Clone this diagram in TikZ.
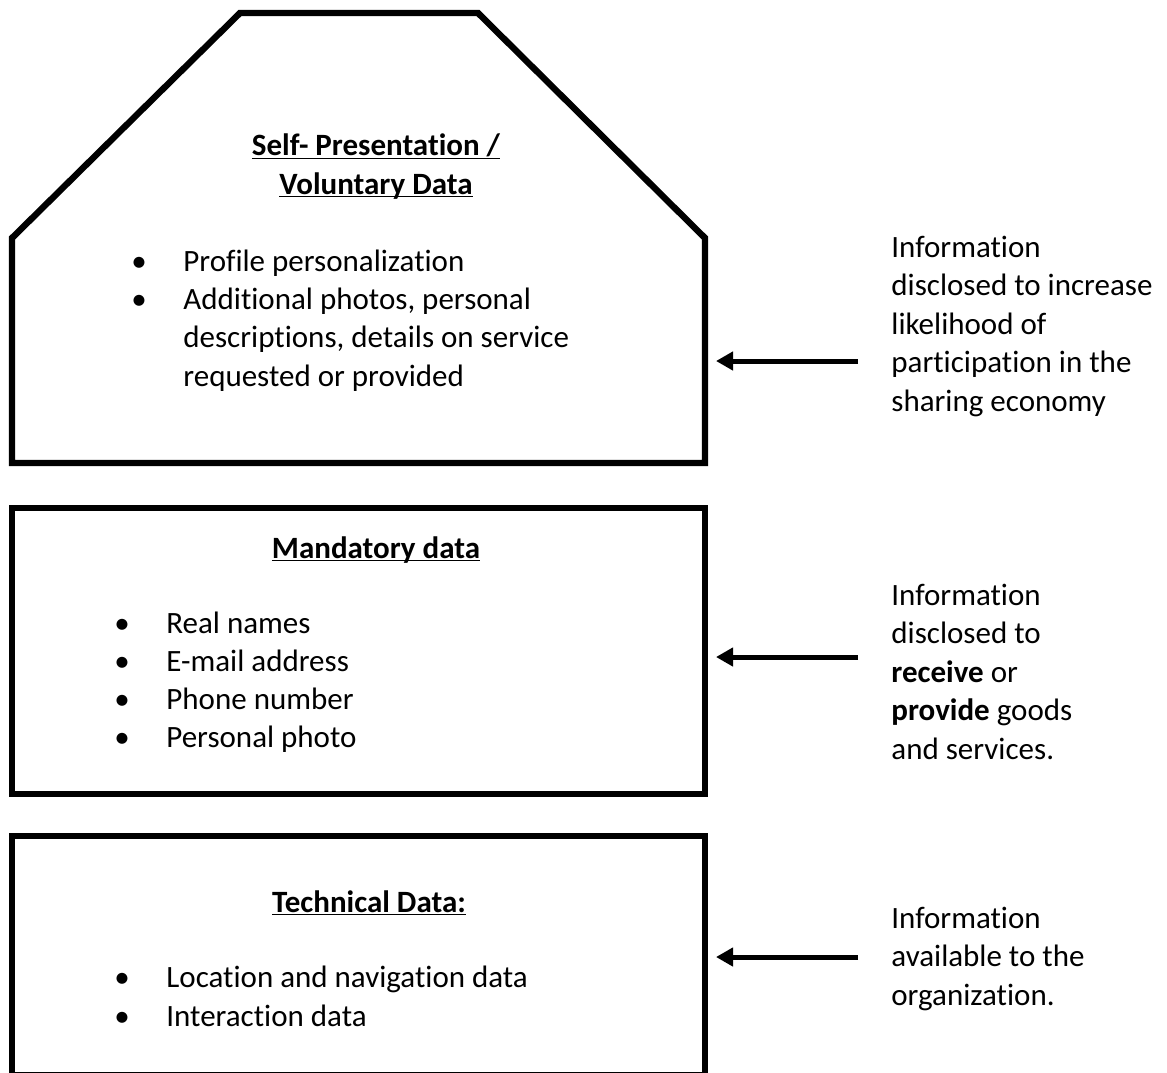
\documentclass[tikz,border=0pt]{standalone}
\usepackage{fontspec}
\setmainfont{Carlito}[Ligatures=NoCommon]
\usetikzlibrary{arrows.meta}

\tikzset{
  panel/.style={line width=3.2pt},
  heading/.style={execute at begin node=\bfseries, anchor=base, align=center, inner sep=0pt},
  dot/.style={anchor=base, inner sep=0pt},
  entry/.style={anchor=base west, align=left, inner sep=0pt},
  note/.style={anchor=base west, align=left, inner sep=0pt},
  pull/.style={line width=2.5pt, -{Triangle[length=8.5pt,width=9pt]}},
}
\newcommand{\ulhead}[1]{\underline{\smash{#1}}}

\begin{document}
\begin{tikzpicture}[x=0.5pt, y=-0.5pt, font=\fontsize{15.5}{19.25}\selectfont]
  \useasboundingbox (0,0) rectangle (1167,1072);
  \clip (0,0) rectangle (1167,1072);

  % voluntary data (multi-line nodes sit on their last baseline)
  \draw[panel] (240,13) -- (478,13) -- (705,238) -- (705,463) -- (12,463) -- (12,238) -- cycle;
  \node[heading] (vol-head) at (376,194) {\ulhead{Self- Presentation /}\\\ulhead{Voluntary Data}};
  \node[dot] (vol-b1) at (139,271) {\textbullet};
  \node[entry] (vol-t1) at (183,271) {Profile personalization};
  \node[dot] (vol-b2) at (139,309) {\textbullet};
  \node[entry] (vol-t2) at (183,386) {Additional photos, personal\\descriptions, details on service\\requested or provided};

  % mandatory data
  \draw[panel] (12,508) rectangle (705,794);
  \node[heading] (man-head) at (376,558) {\ulhead{Mandatory data}};
  \foreach \txt [count=\i from 0] in {Real names, E-mail address, Phone number, Personal photo}{
    \node[dot] (man-b\i) at (122,633+38.3*\i) {\textbullet};
    \node[entry] (man-t\i) at (166,633+38.3*\i) {\txt};
  }

  % technical data
  \draw[panel] (12,836) rectangle (705,1075);
  \node[heading] (tec-head) at (369,912) {\ulhead{Technical Data:}};
  \foreach \txt [count=\i from 0] in {Location and navigation data, Interaction data}{
    \node[dot] (tec-b\i) at (122,987+39.5*\i) {\textbullet};
    \node[entry] (tec-t\i) at (166,987+39.5*\i) {\txt};
  }

  % side notes
  \node[note] (vol-note) at (891,411) {Information\\disclosed to increase\\likelihood of\\participation in the\\sharing economy};
  \node[note] (man-note) at (891,759) {Information\\disclosed to\\\textbf{receive} or\\\textbf{provide} goods\\and services.};
  \node[note] (tec-note) at (891,1005) {Information\\available to the\\organization.};

  \coordinate (vol-tail) at (858,361);
  \coordinate (vol-tip) at (716,361);
  \coordinate (man-tail) at (858,657);
  \coordinate (man-tip) at (716,657);
  \coordinate (tec-tail) at (858,957);
  \coordinate (tec-tip) at (716,957);
  \draw[pull] (vol-tail) -- (vol-tip);
  \draw[pull] (man-tail) -- (man-tip);
  \draw[pull] (tec-tail) -- (tec-tip);
\end{tikzpicture}
\end{document}
